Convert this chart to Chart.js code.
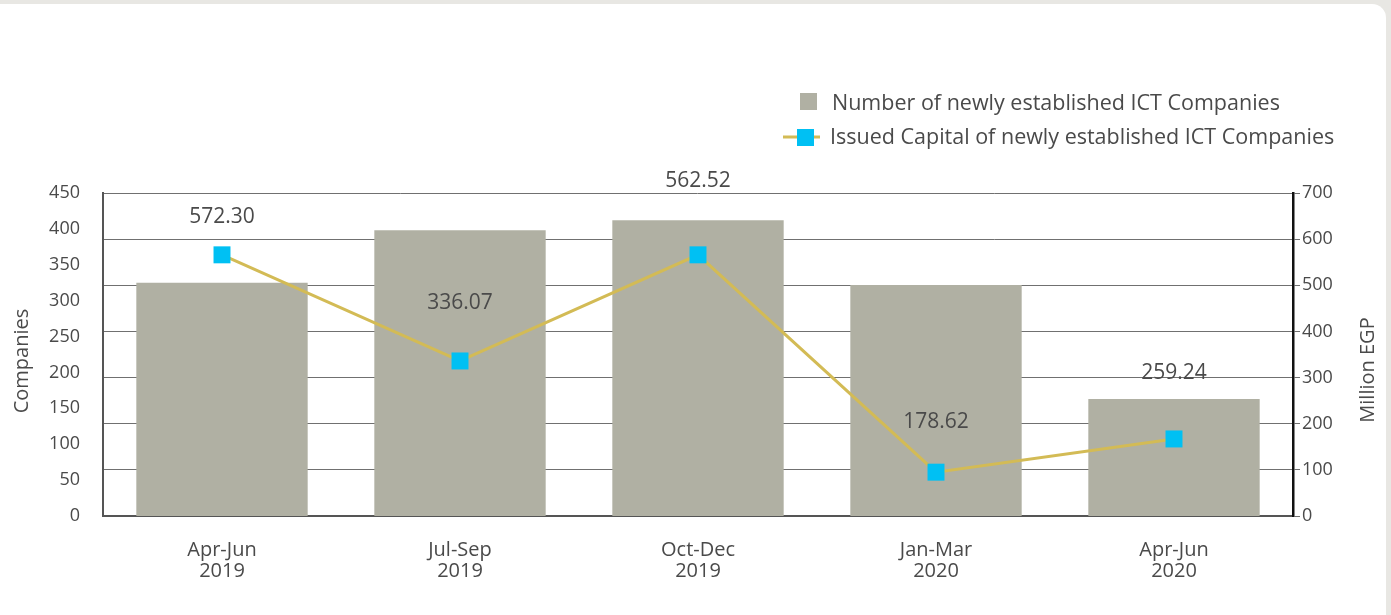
<!DOCTYPE html>
<html>
<head>
<meta charset="utf-8">
<script src="https://cdn.jsdelivr.net/npm/chart.js@4/dist/chart.umd.min.js"></script>
<style>
  html, body { margin: 0; padding: 0; background: #e8e7e3; overflow: hidden; }
  #card { position: absolute; left: 0; top: 4px; width: 1386px; height: 620px; background: #fff; border-top-right-radius: 14px; }
  #wrap { position: absolute; left: 0; top: 0; width: 1391px; height: 615px; }
</style>
</head>
<body>
<div id="card"></div>
<div id="wrap"><canvas id="chart" width="1391" height="615"></canvas></div>
<script>
// --- data ---
const quarters = [['Apr-Jun', '2019'], ['Jul-Sep', '2019'], ['Oct-Dec', '2019'], ['Jan-Mar', '2020'], ['Apr-Jun', '2020']];
const companies = [325, 398, 412, 322, 163];          // left axis (Companies)
const capital = [566, 336, 566, 95, 167];             // right axis (Million EGP), as plotted
const capitalLabels = ['572.30', '336.07', '562.52', '178.62', '259.24'];
const companiesTicks = { min: 0, max: 450, step: 50 };
const capitalTicks = { min: 0, max: 700, step: 100 };

const BAR_COLOR = '#b0b0a3';
const LINE_COLOR = '#d3bb55';
const MARK_COLOR = '#00c0f3';
const TEXT_COLOR = '#4a4a4a';
const FONT = "'Open Sans', sans-serif";

// how far above each marker its value text sits (px)
const labelOffsets = [38, 58, 74, 50, 66];

// value labels, legend and axis titles drawn on the canvas
const extrasPlugin = {
    id: 'extras',
    afterDatasetsDraw(chart) {
        const ctx = chart.ctx;
        const meta = chart.getDatasetMeta(1);
        ctx.save();
        ctx.fillStyle = TEXT_COLOR;
        ctx.font = '21px ' + FONT;
        ctx.textAlign = 'center';
        ctx.textBaseline = 'middle';
        meta.data.forEach((pt, i) => {
            ctx.fillText(capitalLabels[i], pt.x, pt.y - labelOffsets[i]);
        });
        ctx.restore();
    },
    afterDraw(chart) {
        const ctx = chart.ctx;
        const ds = chart.data.datasets;
        ctx.save();
        // legend
        ctx.fillStyle = BAR_COLOR;
        ctx.fillRect(800, 93, 17, 17);
        ctx.strokeStyle = LINE_COLOR;
        ctx.lineWidth = 3;
        ctx.beginPath();
        ctx.moveTo(783, 137);
        ctx.lineTo(820, 137);
        ctx.stroke();
        ctx.fillStyle = MARK_COLOR;
        ctx.fillRect(797, 129, 17, 17);
        ctx.fillStyle = TEXT_COLOR;
        ctx.font = '21.5px ' + FONT;
        ctx.textAlign = 'left';
        ctx.textBaseline = 'middle';
        ctx.fillText(ds[0].label, 832, 104);
        ctx.fillText(ds[1].label, 830, 138);
        // axis titles
        ctx.font = '20px ' + FONT;
        ctx.textAlign = 'center';
        ctx.save();
        ctx.translate(22, 361);
        ctx.rotate(-Math.PI / 2);
        ctx.fillText('Companies', 0, 0);
        ctx.restore();
        ctx.save();
        ctx.translate(1368, 370);
        ctx.rotate(-Math.PI / 2);
        ctx.fillText('Million EGP', 0, 0);
        ctx.restore();
        ctx.restore();
    }
};

new Chart(document.getElementById('chart').getContext('2d'), {
    type: 'bar',
    data: {
        labels: quarters,
        datasets: [
            {
                type: 'bar',
                label: 'Number of newly established ICT Companies',
                data: companies,
                backgroundColor: BAR_COLOR,
                yAxisID: 'y',
                barPercentage: 0.72,
                categoryPercentage: 1,
                order: 2
            },
            {
                type: 'line',
                label: 'Issued Capital of newly established ICT Companies',
                data: capital,
                borderColor: LINE_COLOR,
                borderWidth: 3,
                pointStyle: 'rect',
                pointRadius: 12,
                pointBorderWidth: 0,
                pointBackgroundColor: MARK_COLOR,
                pointBorderColor: MARK_COLOR,
                tension: 0,
                yAxisID: 'y1',
                order: 1
            }
        ]
    },
    options: {
        responsive: false,
        animation: false,
        layout: { padding: { top: 193, left: 0, right: 0, bottom: 0 } },
        plugins: {
            legend: { display: false },
            tooltip: { enabled: false }
        },
        scales: {
            x: {
                grid: { display: false },
                border: { color: '#555', width: 2 },
                ticks: { color: TEXT_COLOR, font: { family: FONT, size: 20, lineHeight: 1.08 }, padding: 15 },
                afterFit: (s) => { s.height = 99; }
            },
            y: {
                position: 'left',
                min: companiesTicks.min,
                max: companiesTicks.max,
                grid: { display: false },
                border: { color: '#555', width: 2 },
                ticks: { stepSize: companiesTicks.step, color: TEXT_COLOR, font: { family: FONT, size: 18 }, padding: 15 },
                afterFit: (s) => { s.width = 103; }
            },
            y1: {
                position: 'right',
                min: capitalTicks.min,
                max: capitalTicks.max,
                grid: { color: '#707070', lineWidth: 1, tickLength: 7, drawOnChartArea: true },
                border: { color: '#111', width: 2.5 },
                ticks: { stepSize: capitalTicks.step, color: TEXT_COLOR, font: { family: FONT, size: 18 }, padding: 2 },
                afterFit: (s) => { s.width = 98; }
            }
        }
    },
    plugins: [extrasPlugin]
});
</script>
</body>
</html>
